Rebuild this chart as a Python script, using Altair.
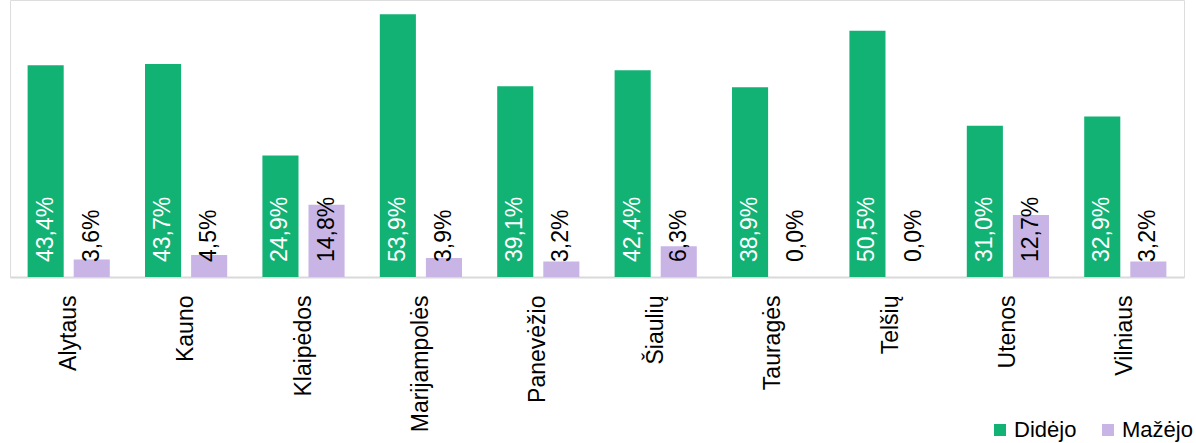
import altair as alt
import pandas as pd

regions = ["Alytaus", "Kauno", "Klaipėdos", "Marijampolės", "Panevėžio",
           "Šiaulių", "Tauragės", "Telšių", "Utenos", "Vilniaus"]
didejo = [43.4, 43.7, 24.9, 53.9, 39.1, 42.4, 38.9, 50.5, 31.0, 32.9]
mazejo = [3.6, 4.5, 14.8, 3.9, 3.2, 6.3, 0.0, 0.0, 12.7, 3.2]
series = ["Didėjo", "Mažėjo"]
colors = ["#12B274", "#C9B4E6"]

rows = []
for r, d, m in zip(regions, didejo, mazejo):
    for s, v in zip(series, [d, m]):
        rows.append({"region": r, "series": s, "value": v,
                     "label": f"{v:.1f}".replace(".", ",") + "%"})
df = pd.DataFrame(rows)

FONT = "Liberation Sans"

x = alt.X("region:N", sort=regions, title=None,
          scale=alt.Scale(paddingInner=0.30, paddingOuter=0.15),
          axis=alt.Axis(labelAngle=-90, labelFontSize=23, labelFont=FONT,
                        labelColor="black", ticks=False, domainColor="#D9D9D9",
                        domainWidth=2, labelPadding=18, labelLimit=300))
xoff = alt.XOffset("series:N", sort=series,
                   scale=alt.Scale(paddingInner=0.217, paddingOuter=0))

base = alt.Chart(df)

bars = base.mark_bar().encode(
    x=x,
    xOffset=xoff,
    y=alt.Y("value:Q", axis=None, scale=alt.Scale(domain=[0, 56.8], nice=False)),
    color=alt.Color("series:N", sort=series,
                    scale=alt.Scale(domain=series, range=colors),
                    legend=alt.Legend(title=None, orient="none", direction="horizontal",
                                      legendX=979, legendY=419, symbolType="square",
                                      symbolSize=144, symbolStrokeWidth=0,
                                      labelFontSize=22, labelFont=FONT,
                                      labelColor="black", columnPadding=20,
                                      padding=0, labelOffset=3)),
)

labels = base.mark_text(angle=270, align="left", baseline="middle",
                        fontSize=23, font=FONT).encode(
    x=x,
    xOffset=xoff,
    y=alt.value(262),
    text="label:N",
    color=alt.condition(alt.datum.series == "Didėjo", alt.value("white"), alt.value("black")),
)

chart = alt.layer(bars, labels).properties(
    width=1174, height=277,
    autosize=alt.AutoSizeParams(type="none"),
    padding={"left": 10, "top": 0, "right": 12, "bottom": 166},
).configure_view(stroke=None).configure(background="white")

chart.save("out.html", embed_options={"renderer": "svg", "actions": False})
